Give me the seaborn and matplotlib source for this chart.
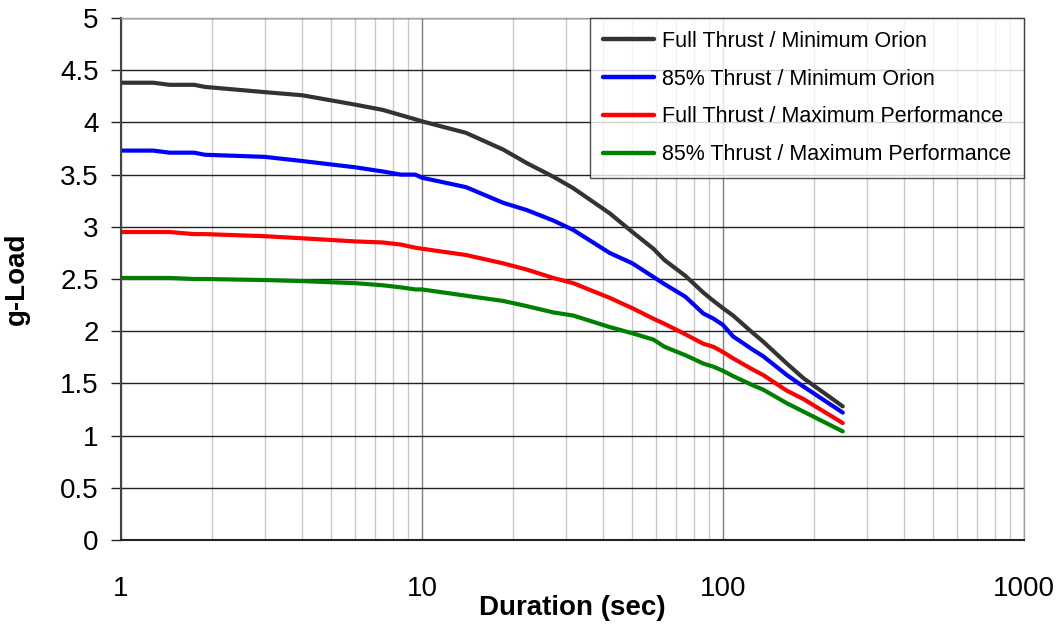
import matplotlib
matplotlib.use("Agg")
import matplotlib.pyplot as plt
import seaborn as sns
import pandas as pd
from matplotlib.ticker import LogLocator, FixedLocator, NullFormatter

# Data
duration = [1, 1.28, 1.45, 1.75, 1.9, 3, 4, 6, 7.4, 8.5, 9.5, 10, 14, 18.6, 22.3,
            27.3, 31.8, 42, 50, 58.7, 64, 75, 86, 93, 100, 108, 126, 136, 163, 185, 250]
full_min_orion = [4.38, 4.38, 4.36, 4.36, 4.34, 4.29, 4.26, 4.17, 4.12, 4.07, 4.03, 4.01,
                  3.90, 3.74, 3.61, 3.48, 3.37, 3.13, 2.95, 2.79, 2.68, 2.53, 2.37, 2.29,
                  2.22, 2.15, 1.98, 1.90, 1.69, 1.55, 1.28]
p85_min_orion = [3.73, 3.73, 3.71, 3.71, 3.69, 3.67, 3.63, 3.57, 3.53, 3.50, 3.50, 3.47,
                 3.38, 3.23, 3.16, 3.06, 2.97, 2.75, 2.65, 2.52, 2.45, 2.33, 2.17, 2.12,
                 2.06, 1.95, 1.82, 1.76, 1.58, 1.47, 1.22]
full_max_perf = [2.95, 2.95, 2.95, 2.93, 2.93, 2.91, 2.89, 2.86, 2.85, 2.83, 2.80, 2.79,
                 2.73, 2.65, 2.59, 2.51, 2.46, 2.32, 2.22, 2.12, 2.07, 1.97, 1.88, 1.85,
                 1.80, 1.74, 1.63, 1.58, 1.43, 1.35, 1.12]
p85_max_perf = [2.51, 2.51, 2.51, 2.50, 2.50, 2.49, 2.48, 2.46, 2.44, 2.42, 2.40, 2.40,
                2.34, 2.29, 2.24, 2.18, 2.15, 2.04, 1.98, 1.92, 1.85, 1.77, 1.69, 1.66,
                1.62, 1.57, 1.48, 1.44, 1.31, 1.23, 1.04]

series_names = ["Full Thrust / Minimum Orion", "85% Thrust / Minimum Orion",
                "Full Thrust / Maximum Performance", "85% Thrust / Maximum Performance"]
series_values = [full_min_orion, p85_min_orion, full_max_perf, p85_max_perf]
colors = ["#333333", "#0000ff", "#ff0000", "#008000"]

df = pd.concat([pd.DataFrame({"Duration": duration, "g": vals, "Case": name})
                for name, vals in zip(series_names, series_values)])

sns.set_style("white")
plt.rcParams['font.family'] = ['Liberation Sans', 'DejaVu Sans']
plt.rcParams['text.color'] = 'black'
plt.rcParams['axes.labelcolor'] = 'black'
plt.rcParams['xtick.color'] = 'black'
plt.rcParams['ytick.color'] = 'black'

fig = plt.figure(figsize=(10.63, 6.28), dpi=100)
ax = fig.add_axes([121 / 1063, 1 - 540 / 628, (1024 - 121) / 1063, (540 - 18) / 628])

sns.lineplot(data=df, x="Duration", y="g", hue="Case", palette=colors,
             linewidth=3, ax=ax, sort=False)

ax.set_xscale("log")
ax.set_xlim(1, 1000)
ax.set_ylim(0, 5)
ax.set_yticks([0, 0.5, 1, 1.5, 2, 2.5, 3, 3.5, 4, 4.5, 5])
ax.set_yticklabels(["0", "0.5", "1", "1.5", "2", "2.5", "3", "3.5", "4", "4.5", "5"])
ax.xaxis.set_major_locator(FixedLocator([1, 10, 100, 1000]))
ax.set_xticklabels(["1", "10", "100", "1000"])
ax.xaxis.set_minor_locator(LogLocator(base=10, subs=range(2, 10)))
ax.xaxis.set_minor_formatter(NullFormatter())

# grid lines
ax.grid(False)
ax.yaxis.grid(True, which="major", color="#222222", linewidth=1.0)
ax.xaxis.grid(True, which="major", color="#7f7f7f", linewidth=1.0)
ax.xaxis.grid(True, which="minor", color="#c8c8c8", linewidth=1.0)
ax.set_axisbelow(True)

ax.tick_params(axis="x", which="major", direction="out", length=7, width=1,
               color="#444444", pad=19, labelsize=20, labelcolor="black")
ax.tick_params(axis="x", which="minor", length=0)
ax.tick_params(axis="y", which="major", direction="out", length=7, width=1,
               color="#222222", pad=9, labelsize=20, left=True, labelcolor="black")

for side in ["top", "right"]:
    ax.spines[side].set_color("#a0a0a0")
    ax.spines[side].set_linewidth(1)
ax.spines["left"].set_color("#444444")
ax.spines["left"].set_linewidth(1.5)
ax.spines["bottom"].set_color("#222222")
ax.spines["bottom"].set_linewidth(1.5)

ax.set_xlabel("Duration (sec)", fontsize=20, fontweight="bold", color="black")
ax.set_ylabel("g-Load", fontsize=20, fontweight="bold", color="black")
ax.xaxis.set_label_coords(0.5, -0.105)
ax.yaxis.set_label_coords(-0.101, 0.5)

leg = ax.legend(loc="upper right", fontsize=15.5, frameon=True, fancybox=False,
                borderaxespad=0, handlelength=2.4, handletextpad=0.35,
                labelspacing=0.78, borderpad=0.6, title=None)
leg.get_frame().set_edgecolor("#222222")
leg.get_frame().set_linewidth(1.0)
for line in leg.get_lines():
    line.set_linewidth(3.2)
for txt in leg.get_texts():
    txt.set_color("black")

fig.savefig("out.png", dpi=100)
